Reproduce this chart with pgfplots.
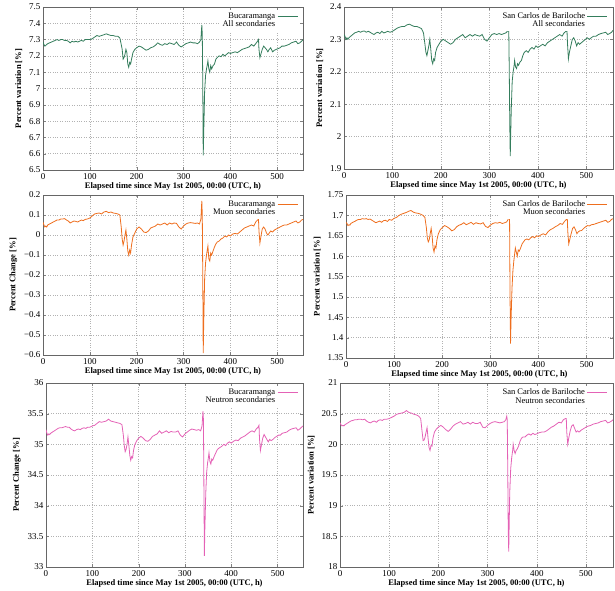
\documentclass[border=0pt]{standalone}
\usepackage{pgfplots}
\pgfplotsset{compat=1.18}
\usepackage{fontspec}
\setmainfont{Liberation Serif}

\definecolor{cgreen}{RGB}{52,125,92}
\definecolor{corange}{RGB}{238,110,30}
\definecolor{cpink}{RGB}{228,98,182}

\pgfplotsset{
  panel/.style={
    scale only axis,
    xmin=0, xmax=555,
    xtick={0,100,200,300,400,500},
    grid=major,
    grid style={dotted, gray!60, line width=0.5pt},
    tick align=inside,
    major tick length=3pt,
    axis line style={black!60, line width=0.5pt},
    tick label style={font=\fontsize{9}{10}\selectfont},
    label style={font=\bfseries\fontsize{8.5}{9.5}\selectfont},
    xlabel={Elapsed time since May 1st 2005, 00:00 (UTC, h)},
    xlabel style={yshift=4pt},
    yticklabel style={xshift=1pt},
    /pgf/number format/assume math mode=true,
    legend plot pos=right,
    legend cell align=right,
    legend style={draw=none, fill=white, at={(0.985,0.985)}, anchor=north east,
      font=\fontsize{8.5}{8.5}\selectfont, row sep=-3pt, inner sep=1pt},
    legend image code/.code={\draw[#1] (0cm,0cm) -- (0.7cm,0cm);},
    every axis plot/.append style={line width=0.8pt},
  }
}

\begin{document}
\begin{tikzpicture}
\useasboundingbox (0,0) rectangle (615pt,590pt);

% ---- Bucaramanga, all secondaries
\begin{axis}[panel, at={(43pt,420pt)}, anchor=south west, width=260pt, height=163pt,
  ymin=6.5, ymax=7.5, ytick={6.5,6.6,6.7,6.8,6.9,7,7.1,7.2,7.3,7.4,7.5},
  ylabel={Percent variation [\%]}]
\addplot[cgreen] table {
0 7.285
2 7.27
4 7.26
6 7.265
8 7.27
10 7.275
14 7.28
18 7.285
22 7.29
26 7.295
30 7.30
34 7.295
38 7.30
42 7.30
46 7.295
50 7.295
54 7.29
58 7.28
62 7.29
66 7.285
70 7.29
74 7.285
78 7.29
82 7.295
86 7.29
90 7.30
95 7.30
100 7.30
105 7.305
110 7.315
115 7.325
120 7.32
125 7.325
130 7.33
135 7.335
140 7.33
145 7.325
150 7.325
155 7.32
160 7.32
164 7.31
167 7.27
169 7.24
171 7.18
173 7.19
175 7.21
177 7.24
179 7.22
181 7.15
183 7.13
185 7.16
187 7.15
189 7.18
192 7.22
196 7.24
200 7.25
205 7.26
210 7.255
215 7.245
220 7.235
225 7.24
230 7.25
235 7.255
240 7.265
245 7.28
250 7.27
255 7.265
260 7.275
265 7.27
270 7.28
275 7.275
280 7.27
285 7.285
290 7.265
295 7.255
300 7.265
305 7.275
310 7.28
315 7.285
320 7.28
325 7.28
330 7.275
334 7.285
337 7.30
339 7.39
340 7.33
341 7.05
342 6.59
343 6.72
345 6.98
347 7.08
349 7.12
351 7.15
352 7.17
354 7.12
356 7.10
358 7.14
360 7.12
363 7.14
366 7.15
369 7.18
372 7.19
376 7.20
380 7.195
384 7.21
388 7.20
392 7.21
396 7.22
400 7.215
405 7.22
410 7.225
415 7.22
420 7.23
425 7.24
430 7.245
435 7.25
440 7.255
445 7.27
450 7.26
454 7.275
458 7.29
460 7.30
461 7.24
463 7.19
465 7.21
468 7.24
471 7.26
474 7.25
477 7.24
480 7.225
483 7.24
486 7.25
490 7.225
494 7.235
498 7.24
502 7.245
506 7.25
510 7.26
515 7.26
520 7.265
525 7.27
530 7.28
535 7.285
540 7.29
544 7.275
548 7.28
552 7.29
555 7.30
};
\addlegendentry{Bucaramanga}
\addlegendimage{empty legend}
\addlegendentry{All secondaries}
\end{axis}

% ---- Bariloche, all secondaries
\begin{axis}[panel, at={(344pt,421pt)}, anchor=south west, width=269pt, height=162pt,
  ymin=1.9, ymax=2.4, ytick={1.9,2,2.1,2.2,2.3,2.4},
  ylabel={Percent variation [\%]}]
\addplot[cgreen] table {
0 2.315
2 2.31
4 2.30
6 2.305
8 2.30
10 2.305
14 2.31
18 2.315
22 2.32
26 2.322
30 2.325
34 2.322
38 2.325
42 2.326
46 2.322
50 2.325
54 2.322
58 2.318
62 2.315
66 2.32
70 2.322
74 2.318
78 2.325
82 2.32
86 2.322
90 2.325
95 2.322
100 2.325
105 2.33
110 2.335
115 2.338
120 2.34
125 2.34
130 2.345
135 2.347
140 2.343
145 2.34
150 2.34
155 2.337
160 2.333
164 2.32
167 2.285
169 2.26
171 2.25
173 2.265
175 2.28
177 2.30
179 2.27
181 2.235
183 2.225
185 2.24
187 2.235
189 2.26
192 2.275
196 2.285
200 2.295
205 2.30
210 2.295
215 2.29
220 2.285
225 2.29
230 2.30
235 2.305
240 2.31
245 2.315
250 2.305
255 2.31
260 2.315
265 2.31
270 2.315
275 2.312
280 2.31
285 2.315
290 2.30
295 2.295
300 2.305
305 2.315
310 2.318
315 2.315
320 2.318
325 2.315
330 2.318
334 2.32
337 2.325
339 2.335
340 2.32
341 2.20
342 2.04
343 1.94
345 2.08
347 2.17
349 2.20
351 2.22
352 2.235
354 2.215
356 2.21
358 2.225
360 2.22
363 2.23
366 2.235
369 2.25
372 2.26
376 2.265
380 2.26
384 2.27
388 2.275
392 2.27
396 2.28
400 2.275
405 2.28
410 2.285
415 2.28
420 2.29
425 2.295
430 2.30
435 2.305
440 2.31
445 2.315
450 2.31
454 2.32
458 2.325
460 2.33
461 2.29
463 2.24
465 2.26
468 2.28
471 2.30
474 2.305
477 2.295
480 2.28
483 2.29
486 2.285
490 2.29
494 2.295
498 2.30
502 2.305
506 2.30
510 2.305
515 2.31
520 2.31
525 2.315
530 2.318
535 2.32
540 2.322
544 2.315
548 2.318
552 2.322
555 2.328
};
\addlegendentry{San Carlos de Bariloche}
\addlegendimage{empty legend}
\addlegendentry{All secondaries}
\end{axis}

% ---- Bucaramanga, muon secondaries
\begin{axis}[panel, at={(43pt,235pt)}, anchor=south west, width=260pt, height=160pt,
  ymin=-0.6, ymax=0.2, ytick={-0.6,-0.5,-0.4,-0.3,-0.2,-0.1,0,0.1,0.2},
  yticklabels={−0.6,−0.5,−0.4,−0.3,−0.2,−0.1,0,0.1,0.2},
  ylabel={Percent Change [\%]}]
\addplot[corange] table {
0 0.065
2 0.05
4 0.04
6 0.045
8 0.04
10 0.05
14 0.055
18 0.06
22 0.065
26 0.07
30 0.075
34 0.075
38 0.08
42 0.08
46 0.082
50 0.075
54 0.07
58 0.06
62 0.065
66 0.07
70 0.068
74 0.065
78 0.07
82 0.075
86 0.072
90 0.078
95 0.08
100 0.085
105 0.095
110 0.105
115 0.108
120 0.11
125 0.105
130 0.115
135 0.118
140 0.112
145 0.115
150 0.11
155 0.108
160 0.105
164 0.10
167 0.04
169 -0.02
171 -0.05
173 -0.03
175 0.0
177 0.025
179 -0.02
181 -0.08
183 -0.10
185 -0.075
187 -0.09
189 -0.05
192 -0.01
196 0.01
200 0.03
205 0.04
210 0.03
215 0.015
220 0.012
225 0.02
230 0.035
235 0.04
240 0.045
245 0.055
250 0.05
255 0.055
260 0.06
265 0.05
270 0.06
275 0.055
280 0.06
285 0.058
290 0.04
295 0.03
300 0.045
305 0.055
310 0.06
315 0.062
320 0.06
325 0.058
330 0.06
334 0.055
337 0.08
339 0.17
340 0.10
341 -0.20
342 -0.59
343 -0.45
345 -0.22
347 -0.14
349 -0.10
351 -0.07
352 -0.055
354 -0.12
356 -0.13
358 -0.09
360 -0.10
363 -0.08
366 -0.06
369 -0.045
372 -0.035
376 -0.03
380 -0.02
384 -0.015
388 -0.005
392 -0.01
396 0.0
400 -0.005
405 0.005
410 0.008
415 0.005
420 0.015
425 0.025
430 0.035
435 0.04
440 0.045
445 0.05
450 0.045
454 0.065
458 0.075
460 0.078
461 0.02
463 -0.04
465 -0.01
468 0.03
471 0.04
474 0.03
477 0.01
480 0.0
483 0.01
486 0.02
490 0.015
494 0.025
498 0.03
502 0.035
506 0.04
510 0.045
515 0.05
520 0.05
525 0.055
530 0.06
535 0.065
540 0.07
544 0.06
548 0.065
552 0.075
555 0.078
};
\addlegendentry{Bucaramanga}
\addlegendimage{empty legend}
\addlegendentry{Muon secondaries}
\end{axis}

% ---- Bariloche, muon secondaries
\begin{axis}[panel, at={(346pt,232pt)}, anchor=south west, width=267pt, height=163pt,
  ymin=1.35, ymax=1.75, ytick={1.35,1.4,1.45,1.5,1.55,1.6,1.65,1.7,1.75},
  ylabel={Percent variation [\%]}]
\addplot[corange] table {
0 1.683
2 1.68
4 1.675
6 1.677
8 1.676
10 1.68
14 1.683
18 1.685
22 1.688
26 1.69
30 1.69
34 1.692
38 1.691
42 1.692
46 1.69
50 1.691
54 1.688
58 1.685
62 1.682
66 1.684
70 1.686
74 1.683
78 1.687
82 1.688
86 1.685
90 1.69
95 1.688
100 1.693
105 1.695
110 1.70
115 1.703
120 1.705
125 1.707
130 1.71
135 1.712
140 1.708
145 1.706
150 1.705
155 1.703
160 1.70
164 1.695
167 1.67
169 1.645
171 1.635
173 1.64
175 1.655
177 1.668
179 1.65
181 1.62
183 1.61
185 1.625
187 1.62
189 1.64
192 1.655
196 1.665
200 1.67
205 1.675
210 1.672
215 1.668
220 1.662
225 1.665
230 1.672
235 1.676
240 1.678
245 1.682
250 1.677
255 1.68
260 1.683
265 1.678
270 1.682
275 1.68
280 1.679
285 1.682
290 1.673
295 1.67
300 1.676
305 1.68
310 1.682
315 1.681
320 1.683
325 1.68
330 1.682
334 1.684
337 1.69
339 1.702
340 1.69
341 1.50
342 1.385
343 1.44
345 1.52
347 1.565
349 1.59
351 1.61
352 1.62
354 1.61
356 1.60
358 1.615
360 1.612
363 1.62
366 1.63
369 1.635
372 1.64
376 1.642
380 1.64
384 1.645
388 1.648
392 1.645
396 1.65
400 1.648
405 1.652
410 1.655
415 1.652
420 1.66
425 1.665
430 1.668
435 1.672
440 1.675
445 1.68
450 1.678
454 1.685
458 1.69
460 1.692
461 1.66
463 1.63
465 1.64
468 1.655
471 1.668
474 1.672
477 1.665
480 1.655
483 1.66
486 1.662
490 1.663
494 1.668
498 1.672
502 1.675
506 1.674
510 1.677
515 1.678
520 1.68
525 1.682
530 1.684
535 1.686
540 1.688
544 1.683
548 1.685
552 1.69
555 1.692
};
\addlegendentry{San Carlos de Bariloche}
\addlegendimage{empty legend}
\addlegendentry{Muon secondaries}
\end{axis}

% ---- Bucaramanga, neutron secondaries
\begin{axis}[panel, at={(46pt,23pt)}, anchor=south west, width=257pt, height=184pt,
  ymin=33, ymax=36, ytick={33,33.5,34,34.5,35,35.5,36},
  ylabel={Percent Change [\%]}]
\addplot[cpink] table {
0 35.24
2 35.18
4 35.15
6 35.17
8 35.16
10 35.18
14 35.2
18 35.22
22 35.24
26 35.26
30 35.27
34 35.27
38 35.28
42 35.29
46 35.28
50 35.28
54 35.25
58 35.23
62 35.22
66 35.24
70 35.25
74 35.24
78 35.26
82 35.27
86 35.26
90 35.28
95 35.28
100 35.30
105 35.31
110 35.34
115 35.37
120 35.36
125 35.37
130 35.38
135 35.41
140 35.38
145 35.37
150 35.36
155 35.35
160 35.34
164 35.32
167 35.15
169 34.98
171 34.88
173 34.92
175 35.0
177 35.12
179 34.98
181 34.82
183 34.74
185 34.80
187 34.78
189 34.9
192 35.0
196 35.06
200 35.10
205 35.13
210 35.10
215 35.06
220 35.05
225 35.08
230 35.13
235 35.15
240 35.17
245 35.22
250 35.18
255 35.2
260 35.22
265 35.19
270 35.21
275 35.2
280 35.2
285 35.22
290 35.15
295 35.12
300 35.17
305 35.2
310 35.23
315 35.25
320 35.24
325 35.23
330 35.24
334 35.22
337 35.30
339 35.54
340 35.40
341 34.3
342 33.18
343 33.6
345 34.2
347 34.55
349 34.7
351 34.8
352 34.86
354 34.72
356 34.68
358 34.76
360 34.74
363 34.8
366 34.85
369 34.9
372 34.93
376 34.95
380 34.97
384 35.0
388 34.98
392 35.02
396 35.04
400 35.02
405 35.05
410 35.07
415 35.06
420 35.1
425 35.12
430 35.14
435 35.17
440 35.2
445 35.22
450 35.2
454 35.25
458 35.28
460 35.31
461 35.1
463 34.9
465 34.98
468 35.1
471 35.16
474 35.12
477 35.08
480 35.04
483 35.08
486 35.06
490 35.08
494 35.11
498 35.13
502 35.15
506 35.15
510 35.18
515 35.19
520 35.2
525 35.23
530 35.25
535 35.26
540 35.27
544 35.23
548 35.25
552 35.28
555 35.30
};
\addlegendentry{Bucaramanga}
\addlegendimage{empty legend}
\addlegendentry{Neutron secondaries}
\end{axis}

% ---- Bariloche, neutron secondaries
\begin{axis}[panel, at={(340pt,23pt)}, anchor=south west, width=273pt, height=184pt,
  ymin=18, ymax=21, ytick={18,18.5,19,19.5,20,20.5,21},
  ylabel={Percent variation [\%]}]
\addplot[cpink] table {
0 20.35
2 20.32
4 20.30
6 20.31
8 20.30
10 20.32
14 20.34
18 20.36
22 20.38
26 20.39
30 20.40
34 20.40
38 20.41
42 20.41
46 20.40
50 20.41
54 20.38
58 20.36
62 20.35
66 20.37
70 20.38
74 20.36
78 20.39
82 20.40
86 20.39
90 20.41
95 20.41
100 20.42
105 20.44
110 20.46
115 20.49
120 20.50
125 20.51
130 20.52
135 20.55
140 20.52
145 20.51
150 20.49
155 20.48
160 20.46
164 20.42
167 20.2
169 20.06
171 20.07
173 20.12
175 20.2
177 20.27
179 20.1
181 19.95
183 19.9
185 19.98
187 19.97
189 20.1
192 20.2
196 20.25
200 20.28
205 20.31
210 20.28
215 20.24
220 20.21
225 20.25
230 20.3
235 20.33
240 20.35
245 20.37
250 20.33
255 20.34
260 20.36
265 20.33
270 20.36
275 20.34
280 20.34
285 20.36
290 20.28
295 20.27
300 20.31
305 20.34
310 20.36
315 20.37
320 20.36
325 20.35
330 20.36
334 20.37
337 20.40
339 20.46
340 20.40
341 19.6
342 18.6
343 18.25
345 19.2
347 19.6
349 19.78
351 19.9
352 20.0
354 19.9
356 19.85
358 19.9
360 19.92
363 19.97
366 20.05
369 20.1
372 20.12
376 20.12
380 20.15
384 20.17
388 20.15
392 20.18
396 20.16
400 20.17
405 20.19
410 20.2
415 20.2
420 20.22
425 20.25
430 20.28
435 20.3
440 20.33
445 20.36
450 20.35
454 20.4
458 20.42
460 20.42
461 20.2
463 20.0
465 20.1
468 20.22
471 20.3
474 20.32
477 20.26
480 20.2
483 20.22
486 20.2
490 20.23
494 20.25
498 20.27
502 20.29
506 20.3
510 20.31
515 20.33
520 20.34
525 20.35
530 20.37
535 20.38
540 20.39
544 20.35
548 20.36
552 20.38
555 20.40
};
\addlegendentry{San Carlos de Bariloche}
\addlegendimage{empty legend}
\addlegendentry{Neutron secondaries}
\end{axis}
\end{tikzpicture}
\end{document}
